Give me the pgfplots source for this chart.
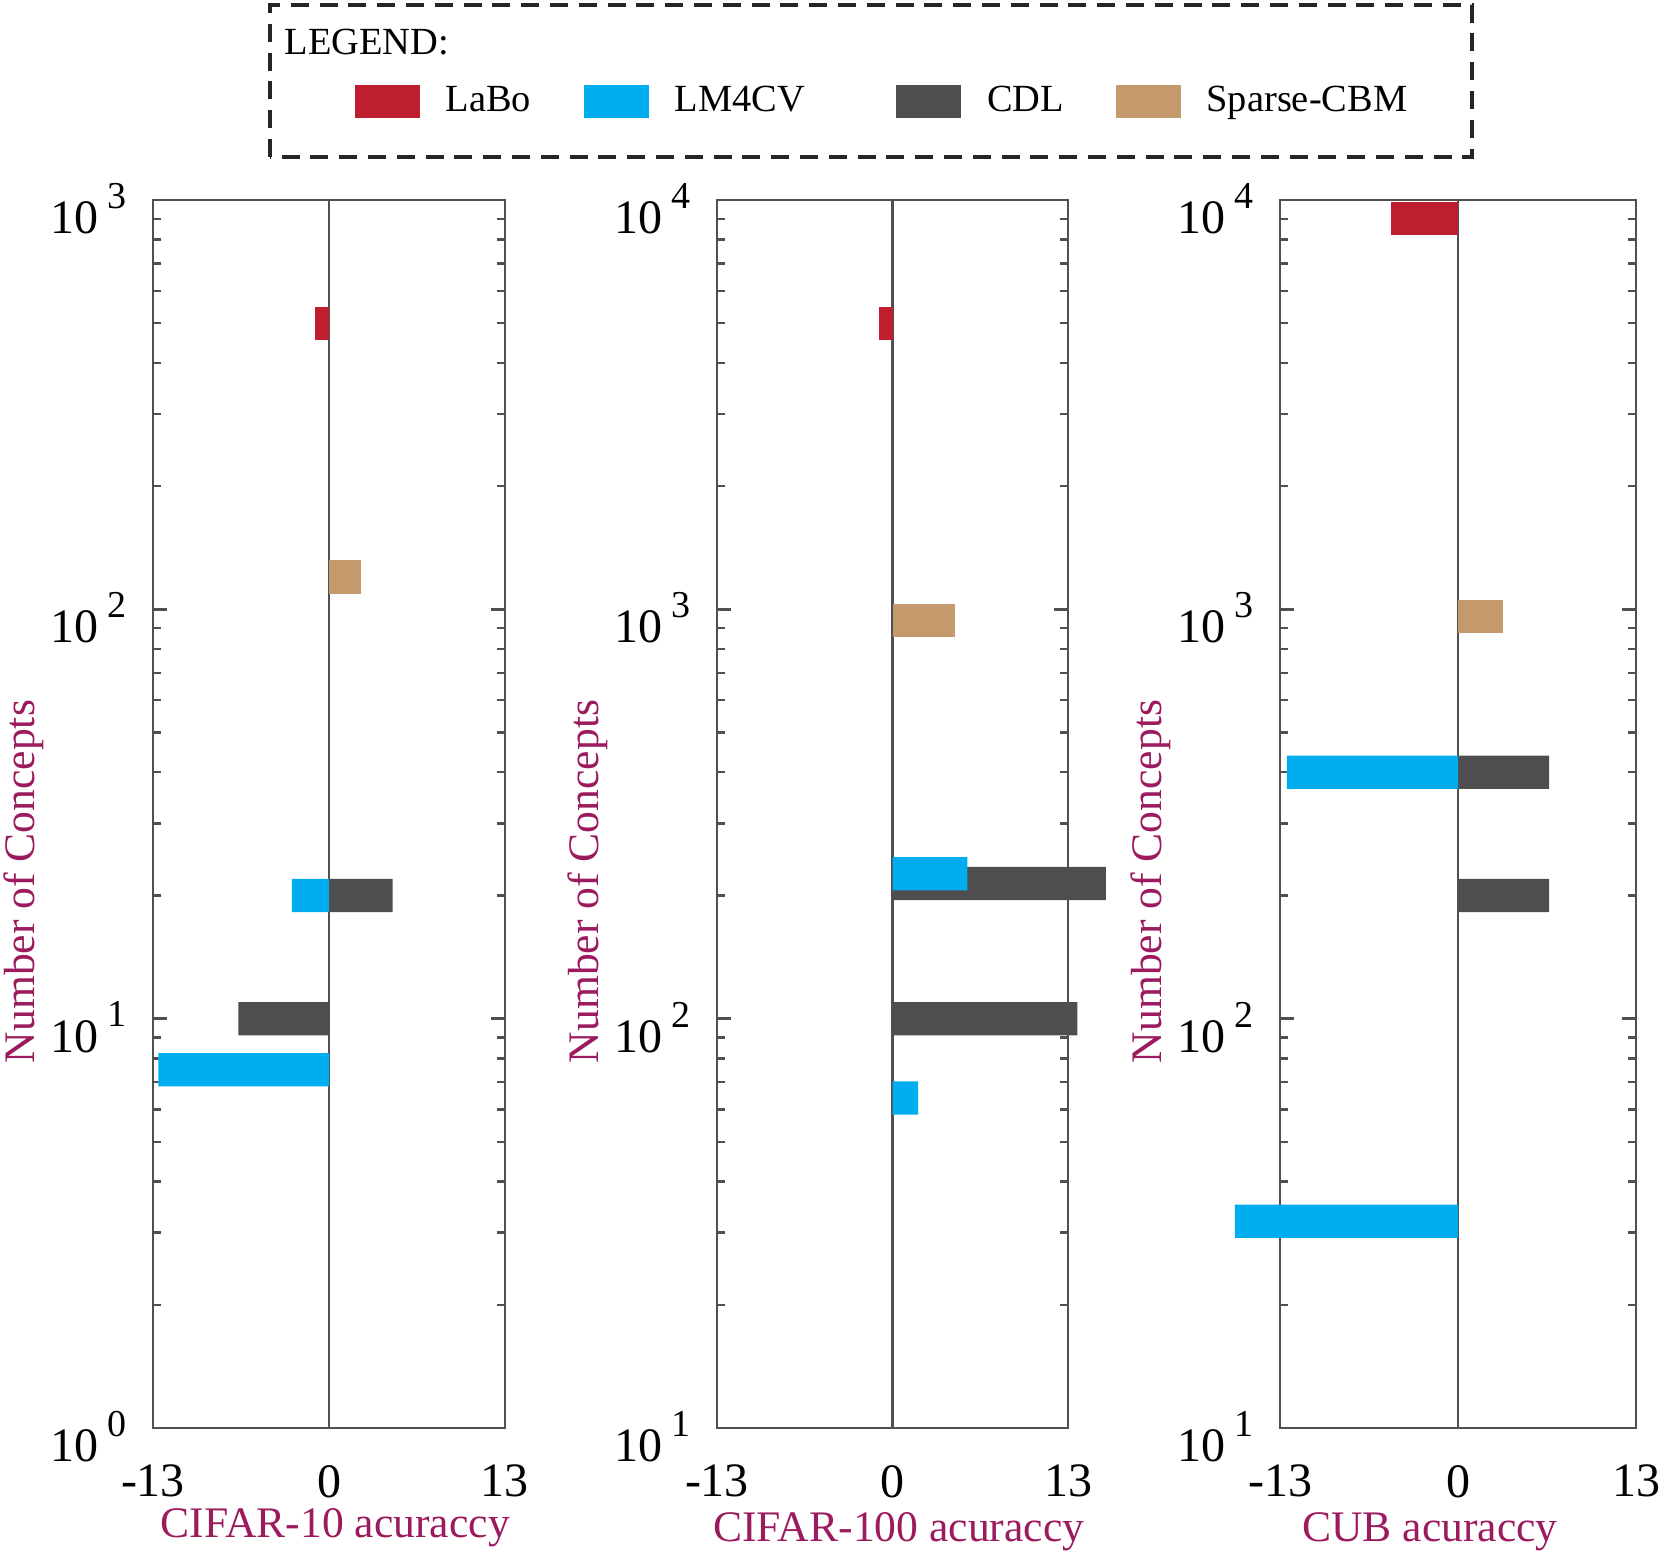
\documentclass[border=0pt]{standalone}
\usepackage{fontspec}
\setmainfont{Liberation Serif}
\usepackage{pgfplots}
\pgfplotsset{compat=1.18}
\definecolor{labo}{HTML}{BE1E2D}
\definecolor{lmcv}{HTML}{00AEEF}
\definecolor{cdl}{HTML}{4E4E50}
\definecolor{sparse}{HTML}{C49A6C}
\definecolor{axisgray}{HTML}{505050}
\definecolor{labelc}{HTML}{9B1B5E}
\newcommand{\tl}[1]{10\hspace{2.3pt}\raisebox{6.3pt}{\fontsize{9.5}{9.5}\selectfont #1}}
\pgfplotsset{every axis/.append style={
  scale only axis, height=307pt,
  xmin=-13, xmax=13, clip=false,
  xtick={-13,0,13}, xticklabels={-13,0,13},
  axis line style={axisgray, line width=0.6pt},
  every tick/.style={axisgray, line width=0.6pt},
  major tick length=3.4pt, minor tick length=2pt,
  xtick style={draw=none},
  extra x ticks={0}, extra x tick labels={},
  extra x tick style={grid=major, major grid style={axisgray, line width=0.6pt}},
  tick label style={font=\fontsize{12}{14}\selectfont, text=black},
  xticklabel style={anchor=north, yshift=-5.75pt},
  yticklabel style={anchor=east, xshift=-3pt, yshift=-2.15pt},
  ylabel={Number of Concepts},
}}
\pgfplotsset{every axis plot/.append style={xbar, bar width=8.3pt, bar shift=0pt, draw=none}}
\begin{document}
\begin{tikzpicture}
\useasboundingbox (0,0) rectangle (415.25pt,388.75pt);
% Panel 1: CIFAR-10
\begin{axis}[ymode=log, width=88pt, at={(38.25pt,31.75pt)}, anchor=south west,
  ymin=1, ymax=1000, ytick={1,10,100,1000},
  yticklabels={\tl{0},\tl{1},\tl{2},\tl{3}},
  xlabel={CIFAR-10 acuraccy},
  every axis y label/.style={at={(axis description cs:-0.368,0.445)}, rotate=90, anchor=center, font=\fontsize{10.9}{13}\selectfont, text=labelc},
  every axis x label/.style={at={(axis description cs:0.518,0)}, anchor=base, yshift=-27.3pt, font=\fontsize{10.9}{13}\selectfont, text=labelc},
  legend columns=4,
  legend style={draw=none, fill=none, inner sep=0pt, outer sep=0pt, anchor=west,
    at={(axis description cs:0.574,1.080)}, font=\fontsize{9.6}{11}\selectfont,
    nodes={inner sep=0pt},
    /tikz/every odd column/.style={column sep=6.5pt},
    /tikz/every even column/.style={column sep=0pt}},
]
\addplot[fill=labo, legend image code/.code={\fill[labo] (0pt,-4.1pt) rectangle (16.2pt,4.1pt);}] coordinates {(-1.0,500)};
\addlegendentry{\makebox[34.5pt][l]{LaBo}}
\addplot[fill=lmcv, legend image code/.code={\fill[lmcv] (0pt,-4.1pt) rectangle (16.2pt,4.1pt);}] coordinates {(-2.75,20) (-12.6,7.5)};
\addlegendentry{\makebox[55.4pt][l]{LM4CV}}
\addplot[fill=cdl, legend image code/.code={\fill[cdl] (0pt,-4.1pt) rectangle (16.2pt,4.1pt);}] coordinates {(4.7,20) (-6.7,10)};
\addlegendentry{\makebox[32.2pt][l]{CDL}}
\addplot[fill=sparse, legend image code/.code={\fill[sparse] (0pt,-4.1pt) rectangle (16.2pt,4.1pt);}] coordinates {(2.4,120)};
\addlegendentry{Sparse-CBM}
\end{axis}
% Panel 2: CIFAR-100
\begin{axis}[ymode=log, width=87.75pt, at={(179.25pt,31.75pt)}, anchor=south west,
  ymin=10, ymax=10000, ytick={10,100,1000,10000},
  yticklabels={\tl{1},\tl{2},\tl{3},\tl{4}},
  xlabel={CIFAR-100 acuraccy},
  every axis y label/.style={at={(axis description cs:-0.368,0.445)}, rotate=90, anchor=center, font=\fontsize{10.9}{13}\selectfont, text=labelc},
  every axis x label/.style={at={(axis description cs:0.518,0)}, anchor=base, yshift=-28.5pt, font=\fontsize{10.9}{13}\selectfont, text=labelc},
]
\addplot[fill=cdl] coordinates {(15.8,214) (13.7,100)};
\addplot[fill=labo] coordinates {(-1.0,5000)};
\addplot[fill=lmcv] coordinates {(5.55,226) (1.9,64)};
\addplot[fill=sparse] coordinates {(4.6,940)};
\end{axis}
% Panel 3: CUB
\begin{axis}[ymode=log, width=89pt, at={(320pt,31.75pt)}, anchor=south west,
  ymin=10, ymax=10000, ytick={10,100,1000,10000},
  yticklabels={\tl{1},\tl{2},\tl{3},\tl{4}},
  xlabel={CUB acuraccy},
  every axis y label/.style={at={(axis description cs:-0.364,0.445)}, rotate=90, anchor=center, font=\fontsize{10.9}{13}\selectfont, text=labelc},
  every axis x label/.style={at={(axis description cs:0.421,0)}, anchor=base, yshift=-28.5pt, font=\fontsize{10.9}{13}\selectfont, text=labelc},
]
\addplot[fill=cdl] coordinates {(6.65,400) (6.65,200)};
\addplot[fill=labo] coordinates {(-4.9,9000)};
\addplot[fill=lmcv] coordinates {(-12.5,400) (-16.3,32)};
\addplot[fill=sparse] coordinates {(3.3,960)};
\end{axis}
% Legend frame and title
\draw[dash pattern=on 4.5pt off 2.7pt, line width=1pt, color=black!85] (67.5pt,349.5pt) rectangle (368pt,387.5pt);
\node[anchor=west, inner sep=0pt, font=\fontsize{9.6}{11}\selectfont] at (71pt,378.2pt) {LEGEND:};
\end{tikzpicture}
\end{document}
